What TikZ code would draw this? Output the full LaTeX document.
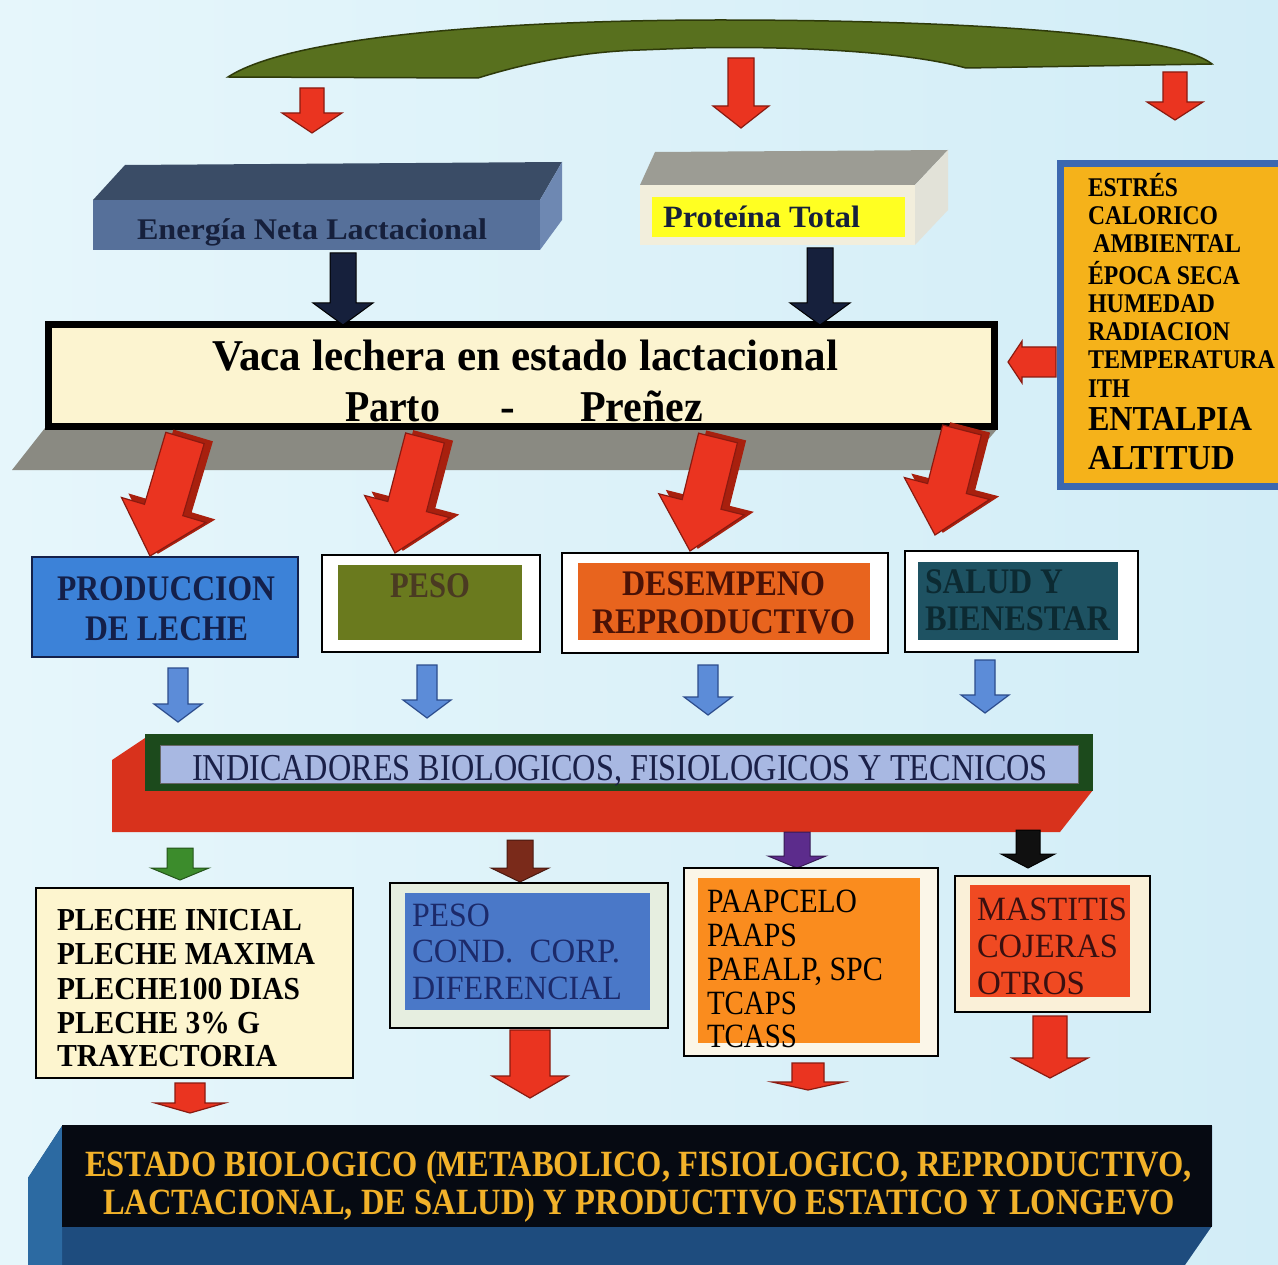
\documentclass[tikz,border=0pt]{standalone}
\usepackage{fontspec}
\setmainfont{Liberation Serif}
\usepackage{graphicx}
\usetikzlibrary{calc}
\newcommand\fw[2]{\resizebox{#1pt}{\height}{#2}}
\newcommand\blockarr[6][]{%
 \coordinate (ba) at (#2); \coordinate (bt) at (#3);
 \coordinate (bh) at ($(bt)!#6!(ba)$);
 \filldraw[#1] ($(ba)!#4!90:(bt)$) -- ($(bh)!#4!-90:(ba)$) -- ($(bh)!#5!-90:(ba)$) -- (bt) -- ($(bh)!#5!90:(ba)$) -- ($(bh)!#4!90:(ba)$) -- ($(ba)!#4!-90:(bt)$) -- cycle;}
\definecolor{bgA}{HTML}{E6F6FB}
\definecolor{bgB}{HTML}{D2EDF7}
\definecolor{arcgreen}{HTML}{58701E}
\definecolor{arcedge}{HTML}{2E3A0A}
\definecolor{arrred}{HTML}{EA3420}
\definecolor{arredge}{HTML}{8A1A10}
\definecolor{arrdark}{HTML}{A8200E}
\definecolor{enfront}{HTML}{56709A}
\definecolor{entop}{HTML}{3A4C66}
\definecolor{enside}{HTML}{6E88B2}
\definecolor{entext}{HTML}{16203C}
\definecolor{prtop}{HTML}{9C9C94}
\definecolor{prfront}{HTML}{F2EEDC}
\definecolor{prside}{HTML}{E2E2D8}
\definecolor{pryellow}{HTML}{FFFF22}
\definecolor{vacafill}{HTML}{FCF4D0}
\definecolor{slab}{HTML}{8A8A82}
\definecolor{estfill}{HTML}{F5B21A}
\definecolor{estbord}{HTML}{3C68B0}
\definecolor{prodblue}{HTML}{3C82D8}
\definecolor{prodtext}{HTML}{14204A}
\definecolor{pesogreen}{HTML}{6A7A1E}
\definecolor{pesotext}{HTML}{4A3A22}
\definecolor{desorange}{HTML}{E8641E}
\definecolor{destext}{HTML}{4A1206}
\definecolor{saludteal}{HTML}{1E5262}
\definecolor{saludtext}{HTML}{0C2A32}
\definecolor{blarrow}{HTML}{5C8CD8}
\definecolor{blarrowedge}{HTML}{2C4C8C}
\definecolor{indgreen}{HTML}{1C4A1C}
\definecolor{indred}{HTML}{D8321C}
\definecolor{indlabel}{HTML}{A8B8E2}
\definecolor{indtext}{HTML}{1A2048}
\definecolor{smgreen}{HTML}{3C8C2C}
\definecolor{smbrown}{HTML}{7A2A1A}
\definecolor{smpurple}{HTML}{5C2C8C}
\definecolor{smblack}{HTML}{101010}
\definecolor{plfill}{HTML}{FDF5CF}
\definecolor{pbouter}{HTML}{E6EEE0}
\definecolor{pbinner}{HTML}{4A78C8}
\definecolor{pbtext}{HTML}{1C2A6A}
\definecolor{paorange}{HTML}{FA8C1E}
\definecolor{paouter}{HTML}{FBF6E8}
\definecolor{mared}{HTML}{F04A22}
\definecolor{maouter}{HTML}{FAF0D8}
\definecolor{matext}{HTML}{3A1010}
\definecolor{botblue}{HTML}{1E4C7E}
\definecolor{botside}{HTML}{2C6AA2}
\definecolor{botblack}{HTML}{060A12}
\definecolor{gold}{HTML}{F2B22A}
\begin{document}
\begin{tikzpicture}[x=1pt,y=-1pt,
  every node/.style={inner sep=0pt,outer sep=0pt},
  txt/.style={anchor=base west},
  redarr/.style={fill=arrred,draw=arredge,line width=1.2pt},
  redshade/.style={fill=arrdark,draw=arrdark,line width=1.2pt},
  blkarr/.style={fill=entext,draw=black,line width=1pt},
  bluarr/.style={fill=blarrow,draw=blarrowedge,line width=1.2pt},
  frame/.style={draw=black,line width=1.5pt},
  bigbold/.style={font=\bfseries\fontsize{27}{27}\selectfont},
]
\useasboundingbox (0,0) rectangle (1278,1265);
\clip (0,0) rectangle (1278,1265);
\shade[left color=bgA,right color=bgB] (0,0) rectangle (1278,1265);

% top arc
\filldraw[fill=arcgreen,draw=arcedge,line width=1.5pt] (228,77) .. controls (300,30) and (560,20) .. (720,20) .. controls (920,20) and (1170,30) .. (1212,64) -- (966,68) .. controls (900,50) and (780,46) .. (693,48) -- (640,50) .. controls (570,52) and (510,68) .. (478,78) -- cycle;
\coordinate (t1s) at (312,88); \coordinate (t1e) at (312,133);
\coordinate (t2s) at (741,58); \coordinate (t2e) at (741,128);
\coordinate (t3s) at (1175,72); \coordinate (t3e) at (1175,120);
\blockarr[redarr]{t1s}{t1e}{12pt}{30pt}{20pt}
\blockarr[redarr]{t2s}{t2e}{13pt}{28pt}{22pt}
\blockarr[redarr]{t3s}{t3e}{12pt}{28pt}{18pt}

% Energia box
\node[fill=enfront,minimum width=447,minimum height=50] (en) at (316.5,225) {};
\fill[entop] (en.north west) -- (125,165) -- (562,162) -- (en.north east) -- cycle;
\fill[enside] (en.north east) -- (562,162) -- (562,220) -- (en.south east) -- cycle;
\node[txt,font=\bfseries\fontsize{30}{30}\selectfont,text=entext] (entxt) at (137,240) {\fw{350}{Energía Neta Lactacional}};

% Proteina box
\node[fill=prfront,minimum width=275,minimum height=60] (pr) at (777.5,215) {};
\fill[prtop] (pr.north west) -- (655,152) -- (948,150) -- (pr.north east) -- cycle;
\fill[prside] (pr.north east) -- (948,150) -- (948,210) -- (pr.south east) -- cycle;
\node[fill=pryellow,minimum width=253,minimum height=40] (pry) at (778.5,217) {};
\node[txt,font=\bfseries\fontsize{31}{31}\selectfont,text=entext] (prtxt) at (663,228) {\fw{197}{Proteína Total}};

% vaca box
\coordinate (b1s) at (343,253);
\coordinate (b2s) at (820,248);
\fill[slab] (45,428) -- (998,428) -- (962,470) -- (12,470) -- cycle;
\node[draw=black,line width=7pt,fill=vacafill,minimum width=946,minimum height=102] (vaca) at (521.5,376) {};
\blockarr[blkarr]{b1s}{vaca.north -| b1s}{13pt}{30pt}{22pt}
\blockarr[blkarr]{b2s}{vaca.north -| b2s}{13pt}{30pt}{22pt}
\node[txt,font=\bfseries\fontsize{44}{44}\selectfont] (vt1) at (212,371) {\fw{626}{Vaca lechera en estado lactacional}};
\node[txt,font=\bfseries\fontsize{44}{44}\selectfont] (vt2) at (345,421) {\fw{95}{Parto}};
\node[txt,font=\bfseries\fontsize{44}{44}\selectfont] (vt3) at (500,421) {-};
\node[txt,font=\bfseries\fontsize{44}{44}\selectfont] (vt4) at (580,421) {\fw{123}{Preñez}};

% Estres box
\node[draw=estbord,line width=7pt,fill=estfill,minimum width=226,minimum height=322] (est) at (1173,325) {};
\coordinate (e1s) at (1056,362);
\coordinate (e1e) at (1008,362);
\blockarr[redarr]{e1s}{e1e}{15pt}{21pt}{14pt}
\begin{scope}[bigbold]
\node[txt] (s1) at (1088,197) {\fw{90}{ESTRÉS}};
\node[txt] (s2) at (1088,225) {\fw{130}{CALORICO}};
\node[txt] (s3) at (1093,253) {\fw{148}{AMBIENTAL}};
\node[txt] (s4) at (1088,285) {\fw{152}{ÉPOCA SECA}};
\node[txt] (s5) at (1088,313) {\fw{127}{HUMEDAD}};
\node[txt] (s6) at (1088,341) {\fw{142}{RADIACION}};
\node[txt] (s7) at (1088,369) {\fw{187}{TEMPERATURA}};
\node[txt] (s8) at (1088,397) {\fw{42}{ITH}};
\node[txt,font=\bfseries\fontsize{35}{35}\selectfont] (s9) at (1088,431) {\fw{164}{ENTALPIA}};
\node[txt,font=\bfseries\fontsize{35}{35}\selectfont] (s10) at (1088,469) {\fw{147}{ALTITUD}};
\end{scope}

% row 2 boxes
\node[draw=prodtext,line width=1.5pt,fill=prodblue,minimum width=266,minimum height=100] (prod) at (165,607) {};
\node[frame,fill=white,minimum width=218,minimum height=97] (peso) at (431,603.5) {};
\node[fill=pesogreen,minimum width=184,minimum height=75] (pesoi) at (430,602.5) {};
\node[frame,fill=white,minimum width=326,minimum height=100] (des) at (725,603) {};
\node[fill=desorange,minimum width=292,minimum height=77] (desi) at (724,601.5) {};
\node[frame,fill=white,minimum width=233,minimum height=101] (sal) at (1021.5,601.5) {};
\node[fill=saludteal,minimum width=200,minimum height=78] (sali) at (1018,601) {};
\begin{scope}[font=\bfseries\fontsize{36}{36}\selectfont]
\node[txt,text=prodtext] (p1) at (57,600) {\fw{218}{PRODUCCION}};
\node[txt,text=prodtext] (p2) at (85,640) {\fw{163}{DE LECHE}};
\node[txt,text=pesotext] (p3) at (390,597) {\fw{80}{PESO}};
\node[txt,text=destext] (p4) at (622,595) {\fw{203}{DESEMPENO}};
\node[txt,text=destext] (p5) at (592,633) {\fw{263}{REPRODUCTIVO}};
\node[txt,text=saludtext] (p6) at (925,593) {\fw{138}{SALUD Y}};
\node[txt,text=saludtext] (p7) at (925,630) {\fw{185}{BIENESTAR}};
\end{scope}

% big slanted red arrows
\coordinate (r1s) at (185,438); \coordinate (r1e) at (150,556);
\coordinate (r2s) at (425,438); \coordinate (r2e) at (395,553);
\coordinate (r3s) at (718,438); \coordinate (r3e) at (690,551);
\coordinate (r4s) at (962,430); \coordinate (r4e) at (935,535);
\foreach \s/\e in {r1s/r1e,r2s/r2e,r3s/r3e,r4s/r4e}{
  \blockarr[redshade]{$(\s)+(8,-2)$}{$(\e)+(8,-3)$}{20pt}{44pt}{48pt}
  \blockarr[redarr]{\s}{\e}{20pt}{44pt}{48pt}
}

% indicators bar
\fill[indred] (145,738) -- (112,760) -- (112,832) -- (1060,832) -- (1093,790) -- (145,790) -- cycle;
\node[fill=indgreen,minimum width=948,minimum height=57] (indg) at (619,762) {};
\node[fill=indlabel,draw=black!60,line width=1pt,minimum width=918,minimum height=38] (ind) at (619,764) {};
\node[txt,font=\fontsize{38}{38}\selectfont,text=indtext] (indt) at (192,780) {\fw{856}{INDICADORES BIOLOGICOS, FISIOLOGICOS Y TECNICOS}};

% blue arrows
\blockarr[bluarr]{178,668}{178,722}{10pt}{24pt}{18pt}
\blockarr[bluarr]{427,665}{427,718}{10pt}{24pt}{18pt}
\blockarr[bluarr]{708,665}{708,715}{10pt}{24pt}{18pt}
\blockarr[bluarr]{985,660}{985,713}{10pt}{24pt}{18pt}

% small colored arrows
\blockarr[fill=smgreen,draw=smgreen!60!black,line width=1pt]{180,848}{180,880}{13pt}{29pt}{12pt}
\blockarr[fill=smbrown,draw=smbrown!60!black,line width=1pt]{520,840}{520,882}{13pt}{29pt}{14pt}
\blockarr[fill=smpurple,draw=smpurple!60!black,line width=1pt]{797,832}{797,868}{13pt}{29pt}{12pt}
\blockarr[fill=smblack,draw=black,line width=1pt]{1028,830}{1028,868}{12pt}{27pt}{14pt}

% bottom boxes
\node[frame,fill=plfill,minimum width=317,minimum height=190] (pl) at (194.5,983) {};
\node[frame,fill=pbouter,minimum width=278,minimum height=145] (pb) at (529,955.5) {};
\node[fill=pbinner,minimum width=245,minimum height=117] (pbi) at (527.5,951.5) {};
\node[frame,fill=paouter,minimum width=254,minimum height=188] (pa) at (811,962) {};
\node[fill=paorange,minimum width=222,minimum height=165] (pai) at (809,960.5) {};
\node[frame,fill=maouter,minimum width=195,minimum height=136] (ma) at (1052.5,944) {};
\node[fill=mared,minimum width=160,minimum height=112] (mai) at (1050,941) {};
\begin{scope}[font=\bfseries\fontsize{32}{32}\selectfont]
\node[txt] (l1) at (57,930) {\fw{245}{PLECHE INICIAL}};
\node[txt] (l2) at (57,964) {\fw{258}{PLECHE MAXIMA}};
\node[txt] (l3) at (57,999) {\fw{243}{PLECHE100 DIAS}};
\node[txt] (l4) at (57,1033) {\fw{203}{PLECHE 3\% G}};
\node[txt] (l5) at (57,1066) {\fw{220}{TRAYECTORIA}};
\end{scope}
\begin{scope}[font=\fontsize{34}{34}\selectfont]
\node[txt,text=pbtext] (w1) at (412,926) {\fw{78}{PESO}};
\node[txt,text=pbtext] (w2) at (412,962) {\fw{208}{COND.\ \ CORP.}};
\node[txt,text=pbtext] (w3) at (412,999) {\fw{210}{DIFERENCIAL}};
\node[txt] (q1) at (707,912) {\fw{150}{PAAPCELO}};
\node[txt] (q2) at (707,946) {\fw{90}{PAAPS}};
\node[txt] (q3) at (707,980) {\fw{176}{PAEALP, SPC}};
\node[txt] (q4) at (707,1014) {\fw{90}{TCAPS}};
\node[txt] (q5) at (707,1047) {\fw{90}{TCASS}};
\node[txt,text=matext] (m1) at (977,920) {\fw{150}{MASTITIS}};
\node[txt,text=matext] (m2) at (977,957) {\fw{141}{COJERAS}};
\node[txt,text=matext] (m3) at (977,994) {\fw{108}{OTROS}};
\end{scope}

% bottom red arrows
\blockarr[redarr]{190,1083}{190,1113}{15pt}{35pt}{10pt}
\blockarr[redarr]{530,1030}{530,1098}{20pt}{38pt}{22pt}
\blockarr[redarr]{808,1063}{808,1090}{16pt}{36pt}{8pt}
\blockarr[redarr]{1050,1016}{1050,1078}{17pt}{38pt}{20pt}

% bottom bar
\fill[botblue] (62,1126) -- (28,1178) -- (28,1265) -- (1185,1265) -- (1212,1226) -- (1212,1126) -- cycle;
\fill[botside] (62,1126) -- (28,1178) -- (28,1265) -- (62,1265) -- cycle;
\node[fill=botblack,minimum width=1150,minimum height=102] (bot) at (637,1176) {};
\begin{scope}[font=\bfseries\fontsize{37}{37}\selectfont,text=gold]
\node[txt] (g1) at (85,1176) {\fw{1107}{ESTADO BIOLOGICO (METABOLICO, FISIOLOGICO, REPRODUCTIVO,}};
\node[txt] (g2) at (103,1214) {\fw{1072}{LACTACIONAL, DE SALUD) Y PRODUCTIVO ESTATICO Y LONGEVO}};
\end{scope}
\end{tikzpicture}
\end{document}
